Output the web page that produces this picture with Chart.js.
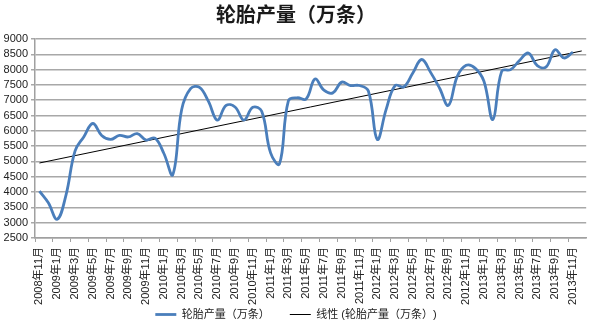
<!DOCTYPE html>
<html>
<head>
<meta charset="utf-8">
<script src="https://cdn.jsdelivr.net/npm/chart.js@4/dist/chart.umd.min.js"></script>
<style>
  html, body { margin: 0; padding: 0; background: #fff; }
  #wrap { width: 600px; height: 330px; }
</style>
</head>
<body>
<div id="wrap"><canvas id="tyreChart"></canvas></div>
<script>
// months on the category axis (last slot is the trendline's one-period forecast)
var months = [
    "2008年11月", "2008年12月",
    "2009年1月", "2009年2月", "2009年3月", "2009年4月", "2009年5月", "2009年6月",
    "2009年7月", "2009年8月", "2009年9月", "2009年10月", "2009年11月", "2009年12月",
    "2010年1月", "2010年2月", "2010年3月", "2010年4月", "2010年5月", "2010年6月",
    "2010年7月", "2010年8月", "2010年9月", "2010年10月", "2010年11月", "2010年12月",
    "2011年1月", "2011年2月", "2011年3月", "2011年4月", "2011年5月", "2011年6月",
    "2011年7月", "2011年8月", "2011年9月", "2011年10月", "2011年11月", "2011年12月",
    "2012年1月", "2012年2月", "2012年3月", "2012年4月", "2012年5月", "2012年6月",
    "2012年7月", "2012年8月", "2012年9月", "2012年10月", "2012年11月", "2012年12月",
    "2013年1月", "2013年2月", "2013年3月", "2013年4月", "2013年5月", "2013年6月",
    "2013年7月", "2013年8月", "2013年9月", "2013年10月", "2013年11月", ""
];

// tyre output, 10k units
var output = [
    4030, 3650,
    3110, 3920, 5340, 5810, 6240, 5850, 5720, 5850, 5800, 5910, 5700, 5760,
    5260, 4570, 6700, 7380, 7420, 6970, 6350, 6830, 6780, 6350, 6770, 6640,
    5280, 4920, 6980, 7080, 7040, 7690, 7330, 7240, 7590, 7480, 7480, 7300,
    5720, 6700, 7480, 7440, 7890, 8330, 7910, 7400, 6830, 7780, 8140, 8050,
    7620, 6370, 7950, 8000, 8300, 8540, 8130, 8090, 8650, 8380, 8570,
    null
];

// linear trend end points
var trendStart = 4950;
var trendEnd = 8610;

var yMin = 2500, yMax = 9000, yStep = 500;

var seriesName = "轮胎产量（万条）";
var trendName = "线性 (轮胎产量（万条）)";

document.addEventListener("DOMContentLoaded", function() {
    var trend = months.map(function(m, i) {
        if (i === 0) return trendStart;
        if (i === months.length - 1) return trendEnd;
        return null;
    });

    var font = "'Liberation Sans', 'Noto Sans CJK SC', sans-serif";

    var ctx = document.getElementById("tyreChart").getContext("2d");
    new Chart(ctx, {
        type: "line",
        data: {
            labels: months,
            datasets: [
                {
                    label: seriesName,
                    data: output,
                    borderColor: "#4A7EBB",
                    borderWidth: 2.8,
                    pointRadius: 0,
                    tension: 0.4,
                    fill: false
                },
                {
                    label: trendName,
                    data: trend,
                    borderColor: "#000000",
                    borderWidth: 1,
                    pointRadius: 0,
                    tension: 0,
                    spanGaps: true,
                    fill: false
                }
            ]
        },
        options: {
            responsive: true,
            maintainAspectRatio: false,
            animation: false,
            layout: { padding: { left: 0, right: 8, top: 0, bottom: 0 } },
            plugins: {
                title: {
                    display: true,
                    text: "轮胎产量（万条）",
                    color: "#1a1a1a",
                    font: { family: "'Noto Sans CJK SC', sans-serif", size: 20, weight: "bold" },
                    padding: { top: 2, bottom: 13 }
                },
                legend: {
                    position: "bottom",
                    labels: {
                        usePointStyle: true,
                        pointStyle: "line",
                        pointStyleWidth: 21,
                        color: "#222",
                        padding: 20,
                        font: { family: font, size: 11 }
                    }
                },
                tooltip: { enabled: false }
            },
            scales: {
                x: {
                    offset: true,
                    afterFit: function(scale) {
                        scale.height = 51;
                        // let the long rotated labels run past the axis box, as in the original
                        scale._computeLabelArea = function() {};
                    },
                    grid: {
                        offset: true,
                        drawOnChartArea: false,
                        tickLength: 4,
                        color: function(c) { return c.index % 2 === 0 ? "#a0a0a0" : "rgba(0,0,0,0)"; }
                    },
                    border: { color: "#a0a0a0", width: 1.5 },
                    ticks: {
                        autoSkip: false,
                        maxRotation: 90,
                        minRotation: 90,
                        padding: 5,
                        color: "#222",
                        font: { family: font, size: 11 },
                        callback: function(v, i) { return i % 2 === 0 ? months[i] : ""; }
                    }
                },
                y: {
                    min: yMin,
                    max: yMax,
                    afterFit: function(scale) { scale.width = 35; },
                    grid: { color: "#a8a8a8", lineWidth: 1.5, tickLength: 4 },
                    border: { color: "#a0a0a0", width: 1.5 },
                    ticks: {
                        stepSize: yStep,
                        autoSkip: false,
                        padding: 3,
                        color: "#222",
                        font: { family: font, size: 11 },
                        callback: function(v) { return String(v); }
                    }
                }
            }
        }
    });
});
</script>
</body>
</html>
